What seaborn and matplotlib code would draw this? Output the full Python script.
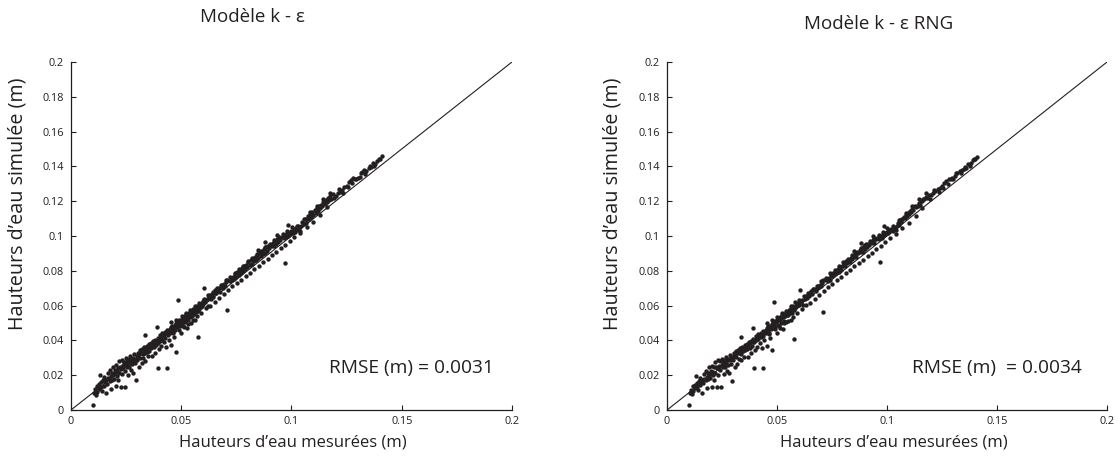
import numpy as np
import pandas as pd
import matplotlib
matplotlib.use("Agg")
import matplotlib.pyplot as plt
import seaborn as sns

# Hauteurs d'eau mesurées (m) - shared by both models
measured = [
    0.0100, 0.0105, 0.0110, 0.0112, 0.0118, 0.0120, 0.0125, 0.0128, 0.0130, 0.0135,
    0.0138, 0.0140, 0.0145, 0.0150, 0.0152, 0.0155, 0.0160, 0.0160, 0.0165, 0.0168,
    0.0170, 0.0175, 0.0178, 0.0180, 0.0182, 0.0185, 0.0188, 0.0190, 0.0192, 0.0195,
    0.0198, 0.0200, 0.0203, 0.0205, 0.0208, 0.0210, 0.0213, 0.0215, 0.0218, 0.0220,
    0.0223, 0.0225, 0.0228, 0.0230, 0.0233, 0.0235, 0.0238, 0.0240, 0.0243, 0.0245,
    0.0248, 0.0250, 0.0253, 0.0255, 0.0258, 0.0260, 0.0263, 0.0265, 0.0268, 0.0270,
    0.0272, 0.0275, 0.0278, 0.0280, 0.0283, 0.0285, 0.0288, 0.0290, 0.0293, 0.0295,
    0.0298,
    0.0300, 0.0303, 0.0305, 0.0308, 0.0310, 0.0313, 0.0315, 0.0318, 0.0320, 0.0323,
    0.0325, 0.0328, 0.0330, 0.0333, 0.0335, 0.0338, 0.0340, 0.0343, 0.0345, 0.0348,
    0.0350, 0.0353, 0.0355, 0.0358, 0.0336, 0.0363, 0.0365, 0.0368, 0.0370, 0.0373,
    0.0375, 0.0378, 0.0380, 0.0383, 0.0385, 0.0395, 0.0390, 0.0393, 0.0395, 0.0398,
    0.0400, 0.0403, 0.0405, 0.0408, 0.0410, 0.0413, 0.0415, 0.0390, 0.0420, 0.0423,
    0.0425, 0.0428, 0.0430, 0.0433, 0.0435, 0.0438, 0.0440, 0.0443, 0.0437, 0.0448,
    0.0450, 0.0453, 0.0455, 0.0458, 0.0460, 0.0463, 0.0465, 0.0468, 0.0470, 0.0473,
    0.0475, 0.0485, 0.0480, 0.0483, 0.0476, 0.0488, 0.0490, 0.0493, 0.0495, 0.0498,
    0.0500, 0.0503, 0.0505, 0.0508, 0.0510, 0.0513, 0.0515, 0.0518, 0.0520, 0.0523,
    0.0525, 0.0528, 0.0530, 0.0533, 0.0535, 0.0538, 0.0540, 0.0543, 0.0545, 0.0548,
    0.0550, 0.0553, 0.0555, 0.0558, 0.0560, 0.0563, 0.0565, 0.0568, 0.0570, 0.0573,
    0.0575, 0.0576, 0.0580, 0.0583, 0.0585, 0.0605, 0.0590, 0.0593, 0.0595, 0.0598,
    0.0600, 0.0605, 0.0610, 0.0615, 0.0620, 0.0625, 0.0630, 0.0635, 0.0640, 0.0645,
    0.0650, 0.0655, 0.0660, 0.0665, 0.0670, 0.0675, 0.0680, 0.0685, 0.0690, 0.0695,
    0.0700, 0.0705, 0.0710, 0.0707, 0.0720, 0.0725, 0.0730, 0.0735, 0.0740, 0.0745,
    0.0750, 0.0755, 0.0760, 0.0765, 0.0770, 0.0775, 0.0780, 0.0785, 0.0790, 0.0795,
    0.0800, 0.0805, 0.0810, 0.0815, 0.0820, 0.0825, 0.0830, 0.0835, 0.0840, 0.0845,
    0.0850, 0.0855, 0.0860, 0.0865, 0.0870, 0.0875, 0.0880, 0.0885, 0.0890, 0.0895,
    0.0900, 0.0905, 0.0910, 0.0915, 0.0920, 0.0925, 0.0930, 0.0935, 0.0940, 0.0945,
    0.0950, 0.0955, 0.0970, 0.0965, 0.0970, 0.0975, 0.0980, 0.0985, 0.0990, 0.0995,
    0.1000, 0.1005, 0.1010, 0.1015, 0.1020, 0.1025, 0.1030, 0.1035, 0.1040, 0.1045,
    0.1050, 0.1055, 0.1060, 0.1065, 0.1070, 0.1075, 0.1080, 0.1085, 0.1090, 0.1095,
    0.1100, 0.1105, 0.1110, 0.1115, 0.1120, 0.1125, 0.1130, 0.1135, 0.1140, 0.1145,
    0.1150, 0.1155, 0.1160, 0.1165, 0.1170, 0.1175, 0.1180, 0.1190, 0.1200, 0.1210,
    0.1220, 0.1230, 0.1240, 0.1250, 0.1260, 0.1270, 0.1280, 0.1290, 0.1300, 0.1310,
    0.1320, 0.1330, 0.1340, 0.1350, 0.1360, 0.1370, 0.1380, 0.1390, 0.1400, 0.1410,
    0.0455, 0.0465, 0.0478, 0.0492, 0.0502, 0.0512, 0.0522, 0.0532, 0.0542, 0.0552,
    0.0562, 0.0572, 0.0582, 0.0592, 0.0602, 0.0612, 0.0622, 0.0632, 0.0642, 0.0652,
    0.0662, 0.0672, 0.0682, 0.0692, 0.0702, 0.0712, 0.0722, 0.0732, 0.0742, 0.0752,
    0.0762, 0.0772, 0.0782, 0.0792, 0.0802, 0.0812, 0.0822, 0.0832, 0.0842, 0.0852,
    0.0862, 0.0872, 0.0882, 0.0892, 0.0902, 0.0912, 0.0922, 0.0932, 0.0942, 0.0952,
    0.0962, 0.0972, 0.0982, 0.0992, 0.1002, 0.1012, 0.1025, 0.1040, 0.1055, 0.1070,
    0.1085, 0.1100, 0.1115, 0.1130, 0.1145, 0.1160, 0.1175, 0.1195, 0.1215, 0.1235,
    0.1255, 0.1275, 0.1295, 0.1315, 0.1335, 0.1355, 0.1375, 0.1395, 0.0985, 0.1070,
    0.0935, 0.0880, 0.0850,
]

# Hauteurs d'eau simulées (m) - modèle k-epsilon
sim_k_eps = [
    0.0030, 0.0100, 0.0120, 0.0085, 0.0140, 0.0105, 0.0150, 0.0120, 0.0200, 0.0130,
    0.0160, 0.0110, 0.0170, 0.0140, 0.0190, 0.0160, 0.0100, 0.0175, 0.0150, 0.0210,
    0.0185, 0.0165, 0.0230, 0.0195, 0.0120, 0.0175, 0.0215, 0.0250, 0.0200, 0.0180,
    0.0230, 0.0210, 0.0140, 0.0260, 0.0195, 0.0225, 0.0240, 0.0170, 0.0280, 0.0215,
    0.0250, 0.0130, 0.0235, 0.0290, 0.0205, 0.0260, 0.0240, 0.0275, 0.0225, 0.0130,
    0.0265, 0.0300, 0.0245, 0.0280, 0.0200, 0.0260, 0.0295, 0.0250, 0.0275, 0.0310,
    0.0230, 0.0285, 0.0265, 0.0300, 0.0215, 0.0280, 0.0320, 0.0270, 0.0295, 0.0170,
    0.0310,
    0.0290, 0.0330, 0.0305, 0.0250, 0.0320, 0.0345, 0.0300, 0.0330, 0.0270, 0.0350,
    0.0320, 0.0300, 0.0345, 0.0360, 0.0325, 0.0280, 0.0350, 0.0370, 0.0335, 0.0310,
    0.0360, 0.0380, 0.0340, 0.0365, 0.0430, 0.0355, 0.0385, 0.0310, 0.0370, 0.0395,
    0.0360, 0.0380, 0.0330, 0.0400, 0.0375, 0.0240, 0.0395, 0.0415, 0.0385, 0.0350,
    0.0410, 0.0430, 0.0395, 0.0370, 0.0420, 0.0440, 0.0405, 0.0475, 0.0430, 0.0390,
    0.0450, 0.0415, 0.0440, 0.0360, 0.0460, 0.0430, 0.0450, 0.0400, 0.0240, 0.0465,
    0.0440, 0.0475, 0.0375, 0.0455, 0.0485, 0.0450, 0.0470, 0.0420, 0.0490, 0.0460,
    0.0500, 0.0630, 0.0475, 0.0505, 0.0335, 0.0490, 0.0515, 0.0480, 0.0500, 0.0445,
    0.0520, 0.0495, 0.0510, 0.0530, 0.0485, 0.0515, 0.0540, 0.0505, 0.0525, 0.0550,
    0.0470, 0.0530, 0.0545, 0.0515, 0.0555, 0.0535, 0.0560, 0.0500, 0.0550, 0.0570,
    0.0540, 0.0565, 0.0580, 0.0550, 0.0575, 0.0520, 0.0590, 0.0565, 0.0580, 0.0600,
    0.0570, 0.0420, 0.0595, 0.0580, 0.0605, 0.0700, 0.0590, 0.0615, 0.0600, 0.0625,
    0.0610, 0.0630, 0.0620, 0.0640, 0.0600, 0.0645, 0.0660, 0.0640, 0.0665, 0.0650,
    0.0675, 0.0690, 0.0670, 0.0685, 0.0700, 0.0680, 0.0705, 0.0720, 0.0700, 0.0725,
    0.0710, 0.0735, 0.0750, 0.0573, 0.0740, 0.0760, 0.0745, 0.0765, 0.0755, 0.0780,
    0.0765, 0.0795, 0.0775, 0.0800, 0.0785, 0.0815, 0.0800, 0.0825, 0.0810, 0.0835,
    0.0820, 0.0850, 0.0835, 0.0860, 0.0840, 0.0870, 0.0855, 0.0880, 0.0865, 0.0890,
    0.0875, 0.0900, 0.0885, 0.0910, 0.0895, 0.0925, 0.0905, 0.0935, 0.0915, 0.0945,
    0.0930, 0.0950, 0.0940, 0.0960, 0.0945, 0.0970, 0.0955, 0.0980, 0.0965, 0.0985,
    0.0975, 0.0995, 0.0843, 0.0990, 0.1005, 0.0995, 0.1015, 0.1000, 0.1020, 0.1010,
    0.1030, 0.1020, 0.1040, 0.1025, 0.1045, 0.1035, 0.1055, 0.1045, 0.1030, 0.1060,
    0.1080, 0.1070, 0.1095, 0.1075, 0.1100, 0.1115, 0.1100, 0.1125, 0.1110, 0.1140,
    0.1120, 0.1150, 0.1135, 0.1160, 0.1145, 0.1175, 0.1160, 0.1180, 0.1170, 0.1195,
    0.1185, 0.1205, 0.1195, 0.1220, 0.1205, 0.1230, 0.1215, 0.1240, 0.1230, 0.1250,
    0.1255, 0.1265, 0.1280, 0.1290, 0.1310, 0.1320, 0.1335, 0.1330, 0.1335, 0.1340,
    0.1370, 0.1380, 0.1375, 0.1390, 0.1395, 0.1420, 0.1415, 0.1430, 0.1445, 0.1460,
    0.0505, 0.0440, 0.0520, 0.0460, 0.0540, 0.0475, 0.0560, 0.0495, 0.0575, 0.0515,
    0.0600, 0.0540, 0.0615, 0.0560, 0.0640, 0.0585, 0.0660, 0.0600, 0.0680, 0.0620,
    0.0700, 0.0645, 0.0720, 0.0665, 0.0745, 0.0690, 0.0765, 0.0710, 0.0790, 0.0730,
    0.0810, 0.0750, 0.0830, 0.0770, 0.0855, 0.0790, 0.0875, 0.0810, 0.0895, 0.0830,
    0.0915, 0.0850, 0.0935, 0.0870, 0.0955, 0.0890, 0.0975, 0.0910, 0.0995, 0.0930,
    0.1010, 0.0950, 0.1030, 0.0970, 0.1050, 0.0995, 0.1060, 0.1015, 0.1095, 0.1050,
    0.1140, 0.1080, 0.1175, 0.1120, 0.1215, 0.1165, 0.1250, 0.1220, 0.1270, 0.1250,
    0.1280, 0.1305, 0.1330, 0.1365, 0.1355, 0.1400, 0.1405, 0.1440, 0.1065, 0.1100,
    0.1005, 0.0965, 0.0920,
]

# Hauteurs d'eau simulées (m) - modèle k-epsilon RNG
sim_rng = [
    0.0030, 0.0095, 0.0115, 0.0090, 0.0140, 0.0110, 0.0145, 0.0125, 0.0195, 0.0135,
    0.0155, 0.0115, 0.0165, 0.0145, 0.0185, 0.0160, 0.0095, 0.0170, 0.0155, 0.0205,
    0.0180, 0.0170, 0.0225, 0.0190, 0.0125, 0.0180, 0.0210, 0.0245, 0.0195, 0.0185,
    0.0225, 0.0215, 0.0135, 0.0255, 0.0200, 0.0220, 0.0245, 0.0175, 0.0275, 0.0210,
    0.0245, 0.0130, 0.0240, 0.0285, 0.0200, 0.0255, 0.0235, 0.0280, 0.0230, 0.0135,
    0.0260, 0.0295, 0.0250, 0.0275, 0.0205, 0.0265, 0.0290, 0.0245, 0.0270, 0.0305,
    0.0225, 0.0290, 0.0260, 0.0295, 0.0210, 0.0285, 0.0315, 0.0265, 0.0300, 0.0165,
    0.0305,
    0.0285, 0.0325, 0.0310, 0.0245, 0.0315, 0.0340, 0.0305, 0.0325, 0.0265, 0.0345,
    0.0325, 0.0295, 0.0340, 0.0355, 0.0320, 0.0285, 0.0345, 0.0365, 0.0340, 0.0305,
    0.0355, 0.0375, 0.0345, 0.0360, 0.0420, 0.0350, 0.0380, 0.0305, 0.0375, 0.0390,
    0.0355, 0.0385, 0.0325, 0.0395, 0.0370, 0.0240, 0.0390, 0.0410, 0.0390, 0.0345,
    0.0405, 0.0425, 0.0400, 0.0365, 0.0415, 0.0435, 0.0410, 0.0470, 0.0425, 0.0385,
    0.0445, 0.0420, 0.0435, 0.0355, 0.0455, 0.0425, 0.0445, 0.0405, 0.0240, 0.0460,
    0.0445, 0.0470, 0.0370, 0.0460, 0.0480, 0.0445, 0.0475, 0.0415, 0.0485, 0.0465,
    0.0495, 0.0620, 0.0470, 0.0500, 0.0345, 0.0495, 0.0510, 0.0475, 0.0505, 0.0440,
    0.0515, 0.0490, 0.0515, 0.0525, 0.0480, 0.0520, 0.0535, 0.0500, 0.0530, 0.0545,
    0.0465, 0.0535, 0.0540, 0.0510, 0.0550, 0.0540, 0.0555, 0.0505, 0.0545, 0.0565,
    0.0545, 0.0560, 0.0575, 0.0555, 0.0570, 0.0515, 0.0585, 0.0560, 0.0585, 0.0595,
    0.0575, 0.0410, 0.0590, 0.0585, 0.0600, 0.0690, 0.0595, 0.0610, 0.0605, 0.0620,
    0.0605, 0.0625, 0.0615, 0.0635, 0.0605, 0.0640, 0.0655, 0.0645, 0.0660, 0.0655,
    0.0670, 0.0685, 0.0665, 0.0690, 0.0695, 0.0685, 0.0700, 0.0715, 0.0705, 0.0720,
    0.0715, 0.0730, 0.0745, 0.0565, 0.0745, 0.0755, 0.0740, 0.0760, 0.0750, 0.0775,
    0.0770, 0.0790, 0.0780, 0.0795, 0.0790, 0.0810, 0.0795, 0.0820, 0.0805, 0.0830,
    0.0825, 0.0845, 0.0830, 0.0855, 0.0845, 0.0865, 0.0850, 0.0875, 0.0870, 0.0885,
    0.0880, 0.0895, 0.0880, 0.0905, 0.0900, 0.0920, 0.0910, 0.0930, 0.0910, 0.0940,
    0.0925, 0.0955, 0.0935, 0.0955, 0.0950, 0.0965, 0.0960, 0.0975, 0.0960, 0.0980,
    0.0980, 0.0990, 0.0850, 0.0985, 0.1000, 0.0990, 0.1010, 0.1005, 0.1015, 0.1015,
    0.1025, 0.1015, 0.1035, 0.1030, 0.1040, 0.1030, 0.1050, 0.1040, 0.1035, 0.1055,
    0.1075, 0.1065, 0.1090, 0.1080, 0.1095, 0.1110, 0.1105, 0.1120, 0.1115, 0.1135,
    0.1125, 0.1145, 0.1140, 0.1155, 0.1150, 0.1170, 0.1165, 0.1175, 0.1175, 0.1190,
    0.1180, 0.1200, 0.1200, 0.1215, 0.1210, 0.1225, 0.1220, 0.1235, 0.1235, 0.1245,
    0.1260, 0.1270, 0.1275, 0.1285, 0.1305, 0.1315, 0.1330, 0.1325, 0.1330, 0.1345,
    0.1365, 0.1375, 0.1380, 0.1385, 0.1390, 0.1415, 0.1420, 0.1435, 0.1440, 0.1455,
    0.0500, 0.0435, 0.0515, 0.0465, 0.0535, 0.0470, 0.0555, 0.0500, 0.0570, 0.0510,
    0.0595, 0.0535, 0.0620, 0.0555, 0.0635, 0.0580, 0.0655, 0.0605, 0.0675, 0.0615,
    0.0695, 0.0640, 0.0715, 0.0660, 0.0740, 0.0685, 0.0760, 0.0705, 0.0785, 0.0725,
    0.0805, 0.0745, 0.0825, 0.0765, 0.0850, 0.0785, 0.0870, 0.0805, 0.0890, 0.0825,
    0.0910, 0.0845, 0.0930, 0.0865, 0.0950, 0.0885, 0.0970, 0.0905, 0.0990, 0.0925,
    0.1005, 0.0945, 0.1025, 0.0965, 0.1045, 0.0990, 0.1055, 0.1010, 0.1090, 0.1045,
    0.1135, 0.1075, 0.1170, 0.1115, 0.1210, 0.1160, 0.1245, 0.1215, 0.1265, 0.1255,
    0.1275, 0.1300, 0.1335, 0.1360, 0.1360, 0.1395, 0.1400, 0.1445, 0.1060, 0.1095,
    0.1000, 0.0960, 0.0915,
]

titles = ["Modèle k - ε", "Modèle k - ε RNG"]
rmse_labels = ["RMSE (m) = 0.0031", "RMSE (m)  = 0.0034"]
x_label = "Hauteurs d’eau mesurées (m)"
y_label = "Hauteurs d’eau simulée (m)"
limits = [0, 0.2]
x_ticks = [0, 0.05, 0.1, 0.15, 0.2]
x_tick_labels = ["0", "0.05", "0.1", "0.15", "0.2"]
y_ticks = [0, 0.02, 0.04, 0.06, 0.08, 0.1, 0.12, 0.14, 0.16, 0.18, 0.2]
y_tick_labels = ["0", "0.02", "0.04", "0.06", "0.08", "0.1", "0.12", "0.14", "0.16", "0.18", "0.2"]

sns.set_style("ticks")
plt.rcParams["font.family"] = ["Open Sans", "DejaVu Sans"]

ink = "#231f20"
fig = plt.figure(figsize=(11.19, 4.57), dpi=100)
axes = [fig.add_axes([0.0634, 0.1028, 0.3941, 0.7615]),
        fig.add_axes([0.5961, 0.1028, 0.3932, 0.7615])]

frames = [pd.DataFrame({"mesure": measured, "simule": sim_k_eps}),
          pd.DataFrame({"mesure": measured, "simule": sim_rng})]

title_pos = [(0.226, 0.962), (0.7855, 0.947)]
ylabel_x = [-0.122, -0.125]
xlabel_x = [0.503, 0.516]
rmse_x = [0.959, 0.943]

for i, ax in enumerate(axes):
    sns.lineplot(x=limits, y=limits, ax=ax, color=ink, lw=0.8)
    sns.scatterplot(data=frames[i], x="mesure", y="simule", ax=ax,
                    color=ink, s=10, marker="o", linewidth=0)
    ax.set_xlim(limits)
    ax.set_ylim(limits)
    ax.set_xticks(x_ticks)
    ax.set_xticklabels(x_tick_labels)
    ax.set_yticks(y_ticks)
    ax.set_yticklabels(y_tick_labels)
    ax.tick_params(direction="in", length=3.5, width=0.8, labelsize=7.8, colors=ink)
    ax.tick_params(axis="x", pad=4)
    ax.tick_params(axis="y", pad=5)
    for side in ["top", "right"]:
        ax.spines[side].set_visible(False)
    for side in ["left", "bottom"]:
        ax.spines[side].set_color(ink)
        ax.spines[side].set_linewidth(0.9)
    ax.set_xlabel(x_label, fontsize=12, color=ink)
    ax.set_ylabel(y_label, fontsize=14.2, color=ink)
    ax.xaxis.set_label_coords(xlabel_x[i], -0.092)
    ax.yaxis.set_label_coords(ylabel_x[i], 0.593)
    ax.xaxis.label.set_va("center")
    ax.yaxis.label.set_va("center")
    ax.text(rmse_x[i], 0.12, rmse_labels[i], transform=ax.transAxes, ha="right",
            va="center", fontsize=13.8, color=ink)
    fig.text(title_pos[i][0], title_pos[i][1], titles[i], ha="center", va="center",
             fontsize=13.5, color=ink)

fig.savefig("out.png", dpi=100)
